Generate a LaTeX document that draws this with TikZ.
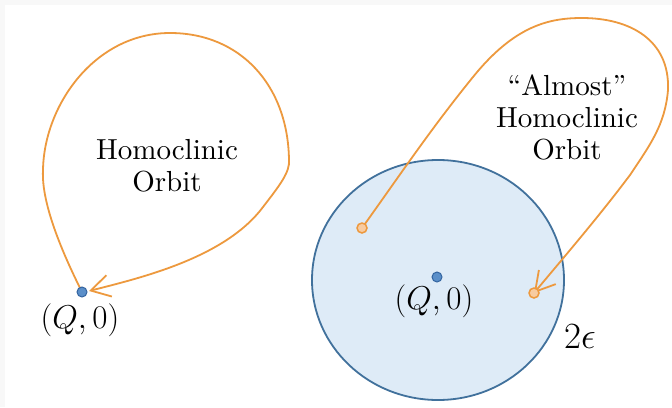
\RequirePackage{fix-cm}
\documentclass[tikz,border=0pt]{standalone}
\usepackage{fontspec}
\setmainfont{lmroman10-regular}[Extension=.otf]
\usetikzlibrary{arrows.meta}

\definecolor{orbitorange}{RGB}{237,153,62}
\definecolor{startfill}{RGB}{248,203,160}
\definecolor{dotblue}{RGB}{91,143,201}
\definecolor{dotedge}{RGB}{52,100,160}
\definecolor{diskfill}{RGB}{222,235,247}
\definecolor{diskedge}{RGB}{65,113,156}
\definecolor{bggray}{RGB}{248,248,248}

\begin{document}
\begin{tikzpicture}[x=1pt, y=-1pt,
    orbit/.style={draw=orbitorange, line width=1.8pt},
    barb/.style={-{Straight Barb[length=19pt, width=22pt, line width=1.8pt]}},
    qdot/.style={circle, fill=dotblue, draw=dotedge, line width=1pt, minimum size=10pt, inner sep=0pt},
    enddot/.style={circle, fill=startfill, draw=orbitorange, line width=1.5pt, minimum size=10pt, inner sep=0pt},
    lbl/.style={align=center, font=\fontsize{29}{32}\selectfont},
    mlbl/.style={font=\fontsize{33}{38}\selectfont}]
    % page
    \fill[bggray] (0,0) rectangle (672,407);
    \fill[white] (5,5) rectangle (672,407);

    % epsilon ball round the fixed point
    \draw[fill=diskfill, draw=diskedge, line width=1.8pt] (438,280) ellipse [x radius=126, y radius=120];

    \coordinate (q1) at (82,292);
    \coordinate (q1tip) at (89,291);
    \coordinate (a0) at (362,228);
    \coordinate (a1) at (534,293);

    % homoclinic orbit
    \draw[orbit, barb] (q1) .. controls (65,258) and (41,205) .. (43,170)
        .. controls (44,105) and (95,33) .. (170,33)
        .. controls (240,33) and (288,85) .. (289,160)
        .. controls (290,172) and (280,185) .. (263,207)
        .. controls (225,258) and (140,278) .. (q1tip);

    % almost homoclinic orbit
    \draw[orbit, barb] (a0) .. controls (400,175) and (430,130) .. (473,77)
        .. controls (515,25) and (550,18) .. (582,18)
        .. controls (630,18) and (670,40) .. (668,90)
        .. controls (665,125) and (650,145) .. (630,175)
        .. controls (600,215) and (570,250) .. (a1);

    \node[qdot] (p1) at (q1) {};
    \node[qdot] (p2) at (437,277) {};
    \node[enddot] (s0) at (a0) {};
    \node[enddot] (s1) at (a1) {};

    \node[mlbl] (l1) at (80,320) {$(Q,0)$};
    \node[mlbl] (l2) at (434,301) {$(Q,0)$};
    \node[font=\fontsize{37}{40}\selectfont] (eps) at (580,337) {$2\epsilon$};

    \node[lbl] (t1) at (167,166) {Homoclinic\\Orbit};
    \node[lbl] (t2) at (567,117) {``Almost''\\Homoclinic\\Orbit};
\end{tikzpicture}
\end{document}
